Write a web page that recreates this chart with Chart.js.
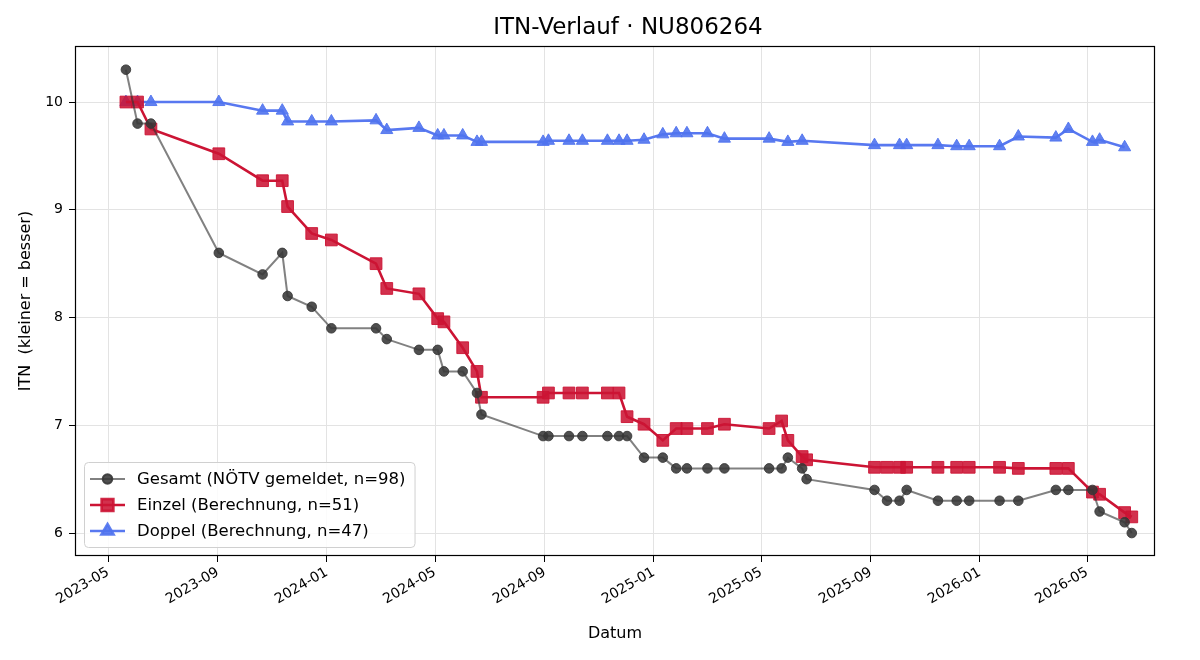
<!DOCTYPE html>
<html>
<head>
<meta charset="utf-8">
<script src="https://cdn.jsdelivr.net/npm/chart.js@4.4.1/dist/chart.umd.min.js"></script>
<style>
  html, body { margin: 0; padding: 0; background: #fff; }
  #wrap { width: 1200px; height: 660px; }
</style>
</head>
<body>
<div id="wrap"><canvas id="itnChart" width="1200" height="660"></canvas></div>
<script>
const gesamtDates = ['2023-05-21','2023-06-03','2023-06-18','2023-09-02','2023-10-21','2023-11-12','2023-11-18','2023-12-15',
  '2024-01-06','2024-02-25','2024-03-08','2024-04-13','2024-05-04','2024-05-11','2024-06-01','2024-06-17','2024-06-22',
  '2024-08-30','2024-09-05','2024-09-28','2024-10-13','2024-11-10','2024-11-23','2024-12-02','2024-12-21',
  '2025-01-11','2025-01-26','2025-02-07','2025-03-02','2025-03-21','2025-05-10','2025-05-24','2025-05-31','2025-06-16','2025-06-21',
  '2025-09-05','2025-09-19','2025-10-03','2025-10-11','2025-11-15','2025-12-06','2025-12-20',
  '2026-01-23','2026-02-13','2026-03-27','2026-04-10','2026-05-07','2026-05-15','2026-06-12','2026-06-20'];
const gesamtValues = [10.3, 9.8, 9.8, 8.6, 8.4, 8.6, 8.2, 8.1,
  7.9, 7.9, 7.8, 7.7, 7.7, 7.5, 7.5, 7.3, 7.1,
  6.9, 6.9, 6.9, 6.9, 6.9, 6.9, 6.9, 6.7,
  6.7, 6.6, 6.6, 6.6, 6.6, 6.6, 6.6, 6.7, 6.6, 6.5,
  6.4, 6.3, 6.3, 6.4, 6.3, 6.3, 6.3,
  6.3, 6.3, 6.4, 6.4, 6.4, 6.2, 6.1, 6.0];

const einzelDates = ['2023-05-21','2023-06-03','2023-06-18','2023-09-02','2023-10-21','2023-11-12','2023-11-18','2023-12-15',
  '2024-01-06','2024-02-25','2024-03-08','2024-04-13','2024-05-04','2024-05-11','2024-06-01','2024-06-17','2024-06-22',
  '2024-08-30','2024-09-05','2024-09-28','2024-10-13','2024-11-10','2024-11-23','2024-12-02','2024-12-21',
  '2025-01-11','2025-01-26','2025-02-07','2025-03-02','2025-03-21','2025-05-10','2025-05-24','2025-05-31','2025-06-16','2025-06-21',
  '2025-09-05','2025-09-19','2025-10-03','2025-10-11','2025-11-15','2025-12-06','2025-12-20',
  '2026-01-23','2026-02-13','2026-03-27','2026-04-10','2026-05-07','2026-05-15','2026-06-12','2026-06-20'];
const einzelValues = [10.0, 10.0, 9.75, 9.52, 9.27, 9.27, 9.03, 8.78,
  8.72, 8.50, 8.27, 8.22, 7.99, 7.96, 7.72, 7.50, 7.26,
  7.26, 7.30, 7.30, 7.30, 7.30, 7.30, 7.08, 7.01,
  6.86, 6.97, 6.97, 6.97, 7.01, 6.97, 7.04, 6.86, 6.71, 6.68,
  6.61, 6.61, 6.61, 6.61, 6.61, 6.61, 6.61,
  6.61, 6.60, 6.60, 6.60, 6.38, 6.36, 6.19, 6.15];

const doppelDates = ['2023-05-21','2023-06-03','2023-06-18','2023-09-02','2023-10-21','2023-11-12','2023-11-18','2023-12-15',
  '2024-01-06','2024-02-25','2024-03-08','2024-04-13','2024-05-04','2024-05-11','2024-06-01','2024-06-17','2024-06-22',
  '2024-08-30','2024-09-05','2024-09-28','2024-10-13','2024-11-10','2024-11-23','2024-12-02','2024-12-21',
  '2025-01-11','2025-01-26','2025-02-07','2025-03-02','2025-03-21','2025-05-10','2025-05-31','2025-06-16',
  '2025-09-05','2025-10-03','2025-10-11','2025-11-15','2025-12-06','2025-12-20',
  '2026-01-23','2026-02-13','2026-03-27','2026-04-10','2026-05-07','2026-05-15','2026-06-12'];
const doppelValues = [10.0, 10.0, 10.0, 10.0, 9.92, 9.92, 9.82, 9.82,
  9.82, 9.83, 9.74, 9.76, 9.69, 9.69, 9.69, 9.63, 9.63,
  9.63, 9.64, 9.64, 9.64, 9.64, 9.64, 9.64, 9.65,
  9.70, 9.71, 9.71, 9.71, 9.66, 9.66, 9.63, 9.64,
  9.60, 9.60, 9.60, 9.60, 9.59, 9.59,
  9.59, 9.68, 9.67, 9.75, 9.63, 9.65, 9.58];

const xTickLabels = ['2023-05','2023-09','2024-01','2024-05','2024-09','2025-01','2025-05','2025-09','2026-01','2026-05'];
const yTicks = [6, 7, 8, 9, 10];
const xStart = '2023-03-25';
const xEnd = '2026-07-16';

const toPoints = (dates, values) => dates.map((d, i) => ({ x: Date.parse(d), y: values[i] }));

Chart.defaults.font.family = 'DejaVu Sans';
Chart.defaults.color = '#000';

const frameAndText = {
  id: 'frameAndText',
  afterDraw(chart) {
    const { ctx, chartArea: a } = chart;
    ctx.save();
    // Rahmen
    ctx.strokeStyle = '#000';
    ctx.lineWidth = 1.2;
    ctx.strokeRect(a.left + 0.5, a.top + 0.5, a.right - a.left - 1, a.bottom - a.top - 1);
    // Titel
    ctx.font = '23px "DejaVu Sans"';
    ctx.fillStyle = '#000';
    ctx.textAlign = 'center';
    ctx.textBaseline = 'middle';
    ctx.fillText('ITN-Verlauf · NU806264', (a.left + a.right) / 2 + 13, 28);
    // Legende unten links
    ctx.font = '16.5px "DejaVu Sans"';
    const sets = chart.data.datasets;
    const textW = Math.max(...sets.map(s => ctx.measureText(s.label).width));
    const bx = a.left + 9, bw = textW + 62, bh = sets.length * 26 + 7, by = a.bottom - 9 - bh;
    ctx.fillStyle = 'rgba(255,255,255,0.85)';
    ctx.strokeStyle = '#d0d0d0';
    ctx.lineWidth = 1;
    ctx.beginPath();
    ctx.roundRect(bx + 0.5, by + 0.5, bw, bh, 4);
    ctx.fill();
    ctx.stroke();
    sets.forEach((s, i) => {
      const y = by + 17 + i * 26;
      ctx.strokeStyle = s.borderColor;
      ctx.lineWidth = s.borderWidth;
      ctx.beginPath();
      ctx.moveTo(bx + 6, y);
      ctx.lineTo(bx + 41, y);
      ctx.stroke();
      ctx.fillStyle = s.pointBackgroundColor;
      ctx.strokeStyle = s.pointBorderColor;
      Chart.helpers.drawPoint(ctx, { pointStyle: s.pointStyle, radius: s.pointRadius, borderWidth: 1, rotation: 0 }, bx + 23.5, y);
      ctx.fillStyle = '#000';
      ctx.textAlign = 'left';
      ctx.textBaseline = 'middle';
      ctx.fillText(s.label, bx + 53, y + 1);
    });
    ctx.restore();
  }
};

new Chart(document.getElementById('itnChart'), {
  type: 'line',
  data: {
    datasets: [
      {
        label: 'Gesamt (NÖTV gemeldet, n=98)',
        data: toPoints(gesamtDates, gesamtValues),
        borderColor: 'rgba(51,51,51,0.62)',
        borderWidth: 2,
        pointStyle: 'circle',
        pointRadius: 4.8,
        pointBackgroundColor: 'rgba(55,55,55,0.88)',
        pointBorderColor: 'rgba(55,55,55,0.88)',
        pointBorderWidth: 1,
      },
      {
        label: 'Einzel (Berechnung, n=51)',
        data: toPoints(einzelDates, einzelValues),
        borderColor: 'rgb(204,20,52)',
        borderWidth: 2.6,
        pointStyle: 'rect',
        pointRadius: 8.3,
        pointBackgroundColor: 'rgba(204,20,52,0.88)',
        pointBorderColor: 'rgba(204,20,52,0.9)',
        pointBorderWidth: 1,
      },
      {
        label: 'Doppel (Berechnung, n=47)',
        data: toPoints(doppelDates, doppelValues),
        borderColor: 'rgb(88,120,240)',
        borderWidth: 2.6,
        pointStyle: 'triangle',
        pointRadius: 7,
        pointBackgroundColor: 'rgba(80,115,238,0.9)',
        pointBorderColor: 'rgba(80,115,238,0.9)',
        pointBorderWidth: 1,
      }
    ]
  },
  options: {
    responsive: false,
    animation: false,
    devicePixelRatio: 1,
    layout: { padding: { top: 46, right: 45, left: 0, bottom: 0 } },
    plugins: { legend: { display: false }, title: { display: false }, tooltip: { enabled: false } },
    scales: {
      x: {
        type: 'linear',
        min: Date.parse(xStart),
        max: Date.parse(xEnd),
        afterBuildTicks: axis => { axis.ticks = xTickLabels.map(l => ({ value: Date.parse(l + '-01') })); },
        afterFit: axis => { axis.height = 104; },
        ticks: {
          autoSkip: false,
          minRotation: 30,
          maxRotation: 30,
          padding: 2,
          font: { size: 14 },
          callback: v => {
            const d = new Date(v);
            return d.getUTCFullYear() + '-' + String(d.getUTCMonth() + 1).padStart(2, '0');
          }
        },
        grid: { color: '#e3e3e3', lineWidth: 1, tickLength: 6, tickColor: '#000', tickWidth: 1 },
        border: { display: false },
        title: { display: true, text: 'Datum', font: { size: 16 }, padding: { top: 0, bottom: 17 } }
      },
      y: {
        min: 5.787,
        max: 10.52,
        afterBuildTicks: axis => { axis.ticks = yTicks.map(v => ({ value: v })); },
        afterFit: axis => { axis.width = 75; },
        ticks: { padding: 6, font: { size: 14 } },
        grid: { color: '#e3e3e3', lineWidth: 1, tickLength: 6, tickColor: '#000', tickWidth: 1 },
        border: { display: false },
        title: { display: true, text: 'ITN  (kleiner = besser)', font: { size: 16 }, padding: { top: 16, bottom: 0 } }
      }
    }
  },
  plugins: [frameAndText]
});
</script>
</body>
</html>
